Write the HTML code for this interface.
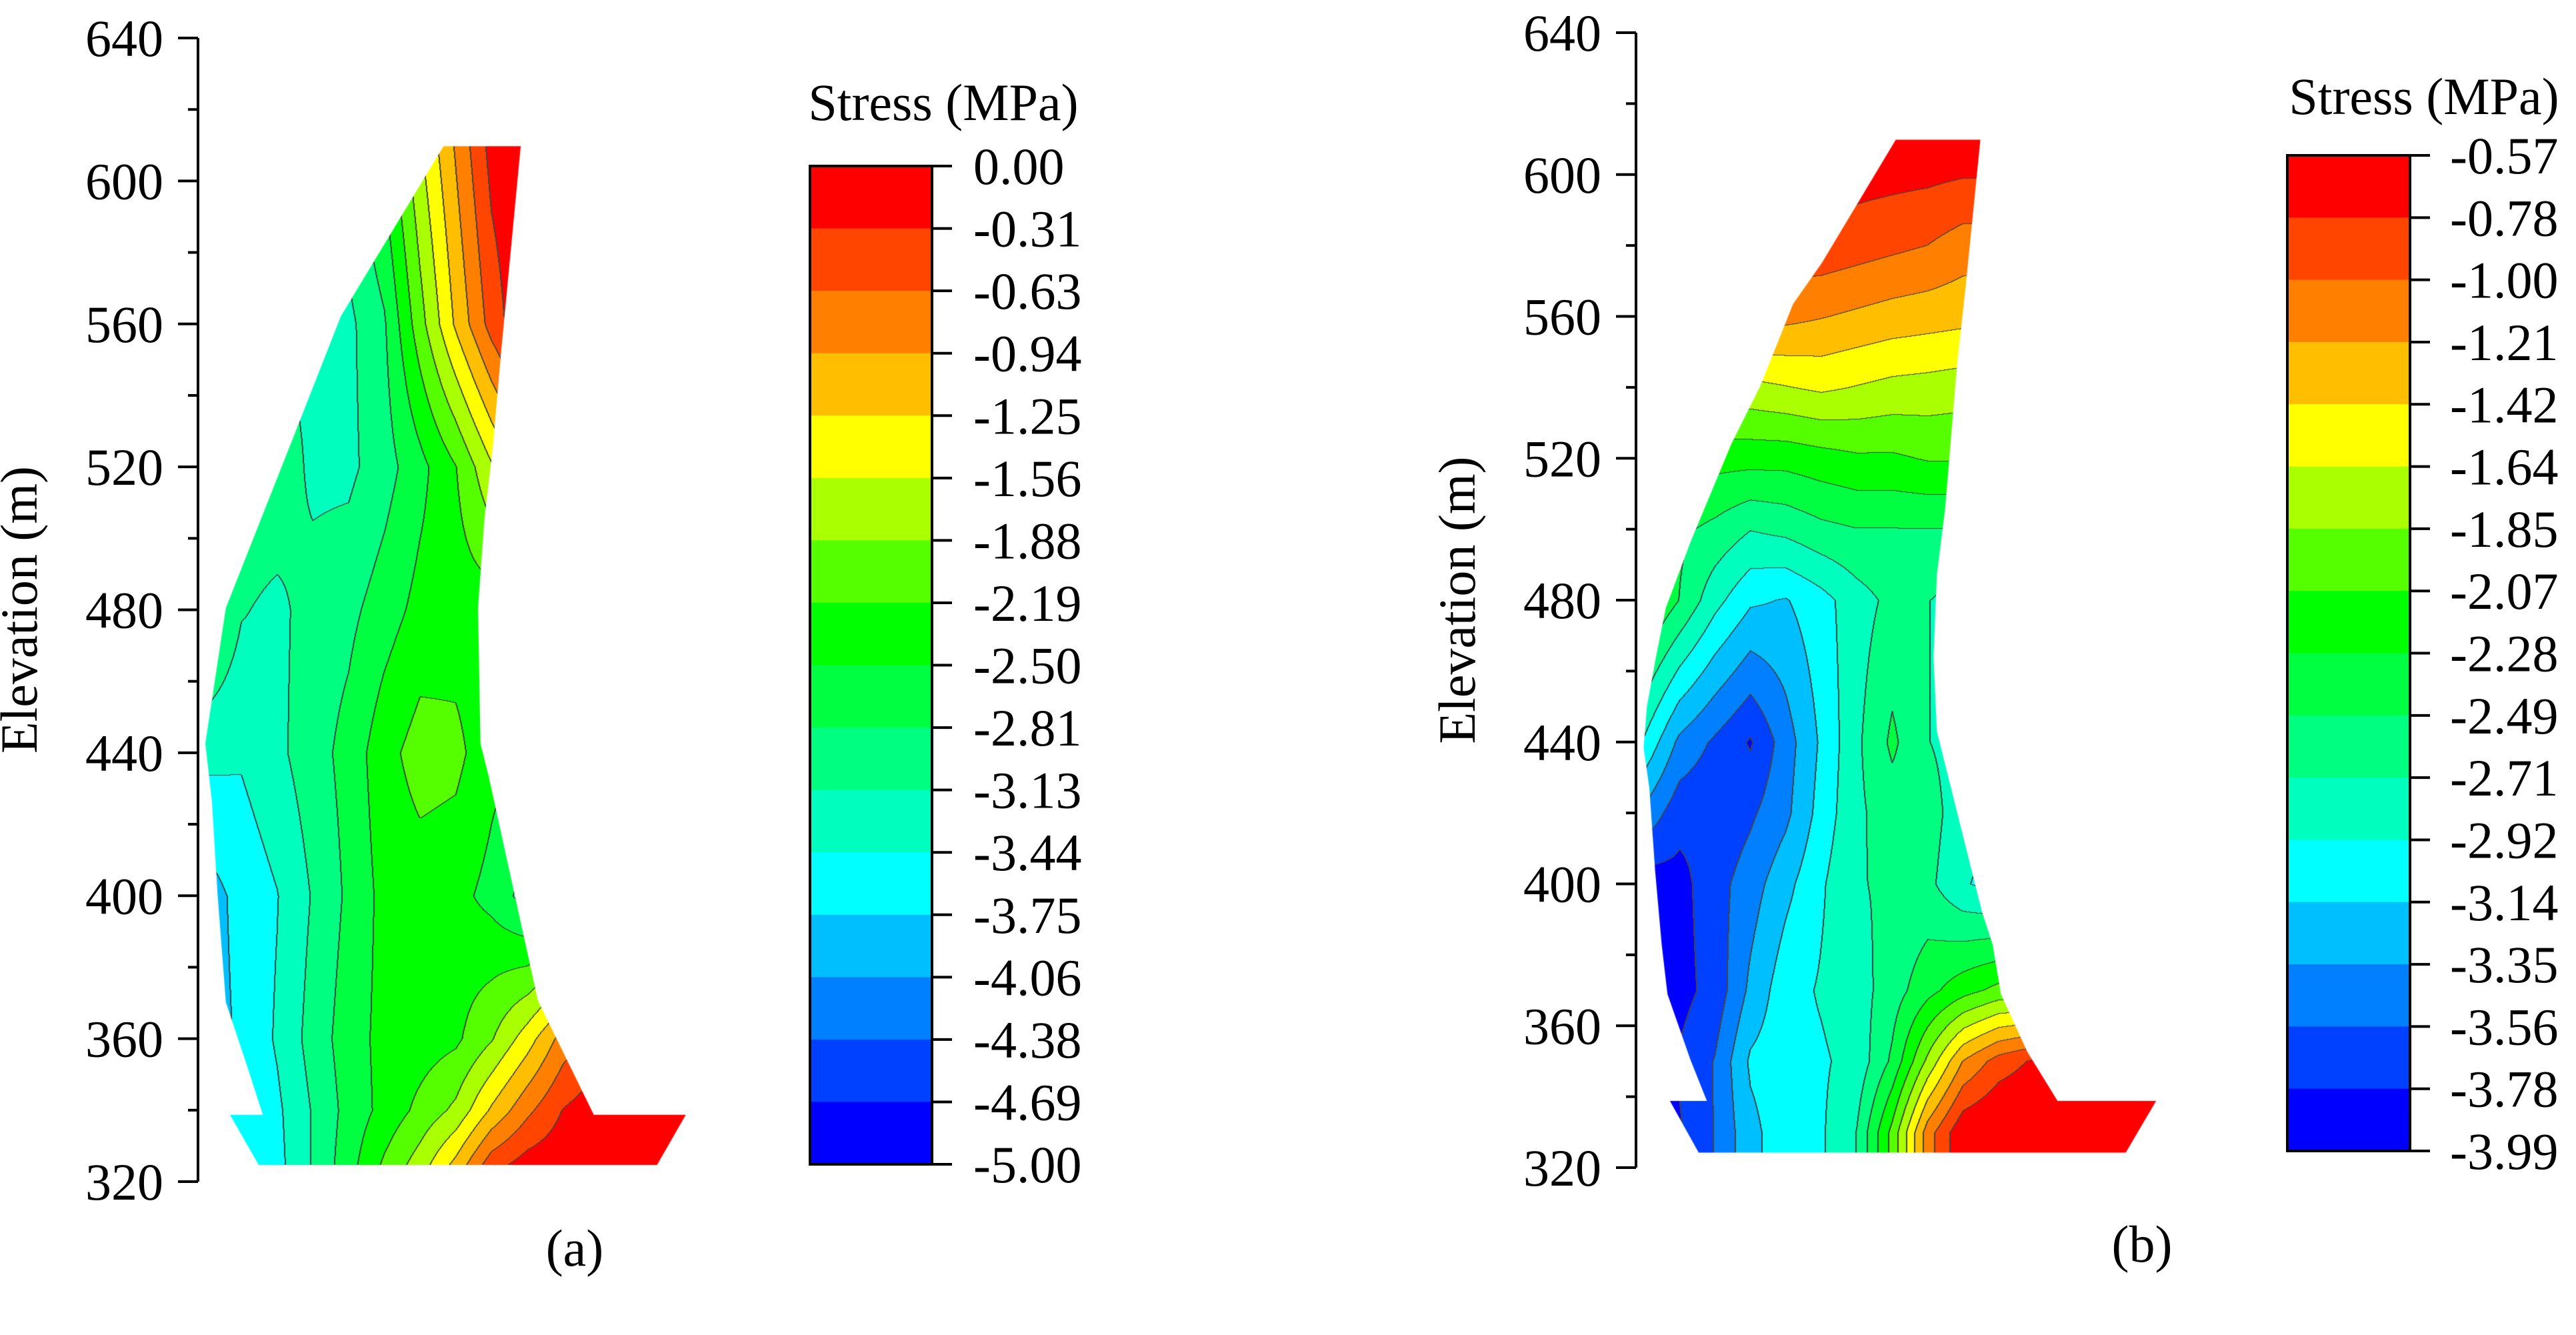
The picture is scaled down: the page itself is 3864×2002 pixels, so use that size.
<!DOCTYPE html>
<html><head><meta charset="utf-8">
<style>
html,body{margin:0;padding:0;background:#fff;}
#root{position:relative;width:3864px;height:2002px;overflow:hidden;font-family:'Liberation Serif','Times New Roman',serif;}
svg{position:absolute;left:0;top:0;}
svg text{font-family:'Liberation Serif','Times New Roman',serif !important;}
canvas{position:absolute;left:0;top:0;}
</style></head>
<body>
<div id="root">
<canvas id="cv" width="3864" height="2002"></canvas>
<svg id="sv" width="3864" height="2002" xmlns="http://www.w3.org/2000/svg" style="font-family:'Liberation Serif','Times New Roman',serif"></svg>
</div>
<script>
// ---------- data ----------
const bandColors = ["#ff0000","#ff4500","#ff8000","#ffbf00","#ffff00","#aaff00","#55ff00","#00ff00","#00ff40","#00ff80","#00ffbf","#00ffff","#00bfff","#0080ff","#0040ff","#0000ff"];
const yTicks = [320,360,400,440,480,520,560,600,640];
const levelsA = ["0.00","-0.31","-0.63","-0.94","-1.25","-1.56","-1.88","-2.19","-2.50","-2.81","-3.13","-3.44","-3.75","-4.06","-4.38","-4.69","-5.00"];
const levelsB = ["-0.57","-0.78","-1.00","-1.21","-1.42","-1.64","-1.85","-2.07","-2.28","-2.49","-2.71","-2.92","-3.14","-3.35","-3.56","-3.78","-3.99"];
// panel (a) stress grid: distance columns (m) x elevation rows (m)
const distA = [0,10,20,30,40,50,60,70,80,90,100,110,120,130];
const elevA = [610,560,520,480,440,400,360,340,320];
const stressA = [
 [-3.2,-3.2,-3.2,-3.1,-2.9,-2.4,-1.6,-0.9,-0.2,0,0,0,0,0],
 [-3.2,-3.2,-3.2,-3.2,-3.2,-2.85,-2.0,-1.2,-0.5,0,0,0,0,0],
 [-2.9,-2.9,-2.9,-3.2,-3.2,-2.95,-2.6,-2.2,-1.6,-1.0,-1,-1,-1,-1],
 [-2.65,-3.1,-3.2,-3.0,-2.9,-2.65,-2.4,-2.35,-2.35,-2.35,-2.35,-2.35,-2.35,-2.35],
 [-3.35,-3.4,-3.2,-2.95,-2.7,-2.3,-2.05,-2.1,-2.4,-2.5,-2.5,-2.5,-2.5,-2.5],
 [-3.9,-3.65,-3.45,-3.1,-2.75,-2.4,-2.35,-2.4,-2.6,-2.95,-3,-3,-3,-3],
 [-3.9,-3.7,-3.4,-3.0,-2.65,-2.4,-2.35,-2.25,-1.9,-1.4,-0.8,-0.5,-0.5,-0.5],
 [-3.7,-3.7,-3.5,-3.1,-2.7,-2.4,-2.1,-1.8,-1.2,-0.7,-0.3,-0.1,0,0],
 [-3.7,-3.7,-3.55,-3.1,-2.6,-2.05,-1.6,-0.95,-0.2,0,0,0,0,0]
];
// panel (b)
const distB = [0,10,20,30,40,50,60,70,80,90,100,110,120,130,140];
const elevB = [610,580,560,540,520,500,480,440,420,400,370,350,330,320];
const stressB = [
 [-0.6,-0.6,-0.6,-0.6,-0.6,-0.6,-0.6,-0.6,-0.6,-0.6,-0.6,-0.6,-0.6,-0.6,-0.6],
 [-0.85,-0.85,-0.85,-0.85,-0.85,-0.85,-0.9,-0.95,-1.0,-1.1,-1.1,-1.1,-1.1,-1.1,-1.1],
 [-1.1,-1.1,-1.1,-1.1,-1.15,-1.2,-1.25,-1.3,-1.33,-1.36,-1.36,-1.36,-1.36,-1.36,-1.36],
 [-1.7,-1.7,-1.7,-1.7,-1.65,-1.6,-1.65,-1.7,-1.72,-1.75,-1.75,-1.75,-1.75,-1.75,-1.75],
 [-2.2,-2.2,-2.2,-2.2,-2.2,-2.15,-2.1,-2.1,-2.05,-2.05,-2.05,-2.05,-2.05,-2.05,-2.05],
 [-2.3,-2.45,-2.55,-2.7,-2.65,-2.55,-2.5,-2.5,-2.5,-2.5,-2.5,-2.5,-2.5,-2.5,-2.5],
 [-2.2,-2.5,-2.85,-3.1,-3.15,-3.0,-2.8,-2.65,-2.7,-2.8,-2.8,-2.8,-2.8,-2.8,-2.8],
 [-2.95,-3.4,-3.6,-3.8,-3.45,-3.1,-2.75,-2.45,-2.7,-2.8,-2.8,-2.8,-2.8,-2.8,-2.8],
 [-3.4,-3.7,-3.75,-3.6,-3.4,-3.05,-2.75,-2.6,-2.6,-2.85,-2.9,-2.9,-2.9,-2.9,-2.9],
 [-3.9,-3.85,-3.65,-3.45,-3.2,-2.95,-2.72,-2.68,-2.65,-2.9,-3.0,-3.0,-3.0,-3.0,-3.0],
 [-3.9,-3.85,-3.7,-3.3,-3.0,-2.9,-2.8,-2.6,-2.35,-2.15,-2.0,-2.0,-2.0,-2.0,-2.0],
 [-3.8,-3.75,-3.55,-3.1,-3.0,-2.95,-2.85,-2.45,-1.8,-1.2,-0.9,-0.75,-0.7,-0.7,-0.7],
 [-3.85,-3.8,-3.55,-3.2,-3.0,-2.95,-2.7,-2.0,-1.1,-0.6,-0.5,-0.5,-0.5,-0.5,-0.5],
 [-3.85,-3.8,-3.55,-3.2,-3.0,-2.95,-2.7,-2.0,-1.1,-0.6,-0.5,-0.5,-0.5,-0.5,-0.5]
];
// dam outlines (reference display units, scaled by S)
const S = 1.232;
const outlineA = [[540,178],[634,178],[610,430],[600,545],[590,630],[582,740],[585,905],[595,945],[640,1150],[655,1218],[723,1357],[835,1357],[800,1418],[315,1418],[280,1357],[320,1357],[300,1295],[275,1220],[265,1090],[258,975],[250,905],[275,740],[360,525],[415,385]];
const outlineB = [[740,170],[843,170],[825,350],[815,440],[800,620],[790,700],[786,800],[790,890],[815,990],[845,1110],[858,1150],[868,1210],[900,1280],[937,1340],[1057,1340],[1020,1403],[500,1403],[465,1340],[510,1340],[490,1290],[462,1210],[455,1150],[447,1060],[440,960],[433,910],[437,860],[448,800],[460,740],[490,660],[540,540],[575,470],[615,370],[650,320]];

// ---------- panels ----------
const panels = [
 {id:"a", ox:0, axisX:297, yTop:57, yBot:1772, originX:308, dist:distA, elev:elevA, z:stressA, outline:outlineA,
  vmax:0, vmin:-5.0, levels:levelsA, cbX:1215, cbW:183, cbTop:249, cbBot:1746, titleX:1415, titleY:180, labX:1460, capX:862, capY:1898},
 {id:"b", ox:1932, axisX:2454, yTop:49, yBot:1751, originX:2465.5, dist:distB, elev:elevB, z:stressB, outline:outlineB,
  vmax:-0.57, vmin:-3.99, levels:levelsB, cbX:3431, cbW:184, cbTop:233, cbBot:1726, titleX:3636, titleY:171, labX:3675, capX:3213, capY:1892}
];

const NS="http://www.w3.org/2000/svg";
const sv=document.getElementById('sv');
function mk(tag,attrs,parent){const e=document.createElementNS(NS,tag);for(const k in attrs)e.setAttribute(k,attrs[k]);(parent||sv).appendChild(e);return e;}
const FS="font-family:'Liberation Serif','Times New Roman',serif;font-size:78px";

function interp(p,d,e){
  const E=p.elev, D=p.dist, Z=p.z;
  let r=0; while(r<E.length-2 && e<E[r+1]) r++;
  let te=(E[r]-e)/(E[r]-E[r+1]); te=Math.max(0,Math.min(1,te));
  let c=0; while(c<D.length-2 && d>D[c+1]) c++;
  let td=(d-D[c])/(D[c+1]-D[c]); td=Math.max(0,Math.min(1,td));
  const a=Z[r][c]*(1-td)+Z[r][c+1]*td, b=Z[r+1][c]*(1-td)+Z[r+1][c+1]*td;
  return a*(1-te)+b*te;
}
function hex(h){return [parseInt(h.substr(1,2),16),parseInt(h.substr(3,2),16),parseInt(h.substr(5,2),16)];}
const rgb=bandColors.map(hex);

const cv=document.getElementById('cv'), ctx=cv.getContext('2d');
panels.forEach(p=>{
  const pxPerM=(p.yBot-p.yTop)/320;
  const yOf=e=>p.yTop+(640-e)*pxPerM;
  const eOf=y=>640-(y-p.yTop)/pxPerM;
  const dOf=x=>(x-p.originX)/pxPerM;
  const pts=p.outline.map(q=>[p.ox+q[0]*S,q[1]*S]);
  let minx=1e9,maxx=-1e9,miny=1e9,maxy=-1e9;
  pts.forEach(q=>{minx=Math.min(minx,q[0]);maxx=Math.max(maxx,q[0]);miny=Math.min(miny,q[1]);maxy=Math.max(maxy,q[1]);});
  minx=Math.floor(minx)-2;miny=Math.floor(miny)-2;maxx=Math.ceil(maxx)+2;maxy=Math.ceil(maxy)+2;
  const W=maxx-minx,H=maxy-miny;
  const step=(p.vmax-p.vmin)/16;
  const band=new Int8Array(W*H);
  for(let j=0;j<H;j++){const e=eOf(miny+j);for(let i=0;i<W;i++){
    const v=interp(p,dOf(minx+i),e);
    let b=Math.floor((p.vmax-v)/step); b=Math.max(0,Math.min(15,b)); band[j*W+i]=b;}}
  const img=ctx.createImageData(W,H);
  for(let j=0;j<H;j++)for(let i=0;i<W;i++){
    const k=j*W+i,b=band[k];let c=rgb[b];
    const edge=(i<W-1&&band[k+1]!==b)||(j<H-1&&band[k+W]!==b)||(i>0&&band[k-1]!==b);
    if(edge)c=[68,68,68];
    img.data[k*4]=c[0];img.data[k*4+1]=c[1];img.data[k*4+2]=c[2];img.data[k*4+3]=255;}
  const off=document.createElement('canvas');off.width=W;off.height=H;off.getContext('2d').putImageData(img,0,0);
  ctx.save();ctx.beginPath();pts.forEach((q,i)=>i?ctx.lineTo(q[0],q[1]):ctx.moveTo(q[0],q[1]));ctx.closePath();ctx.clip();
  ctx.drawImage(off,minx,miny);ctx.restore();

  // axis
  const g=mk('g',{});
  
  mk('line',{x1:p.axisX,y1:p.yTop,x2:p.axisX,y2:p.yBot,stroke:'#000','stroke-width':4},g);
  for(let e=320;e<=640;e+=20){
    const major=(e%40===0);
    mk('line',{x1:p.axisX-(major?30:15),y1:yOf(e),x2:p.axisX,y2:yOf(e),stroke:'#000','stroke-width':4},g);
  }
  yTicks.forEach(t=>{
    const tx=mk('text',{x:p.axisX-52,y:yOf(t)+27,'text-anchor':'end',style:FS,fill:'#000'},g);
    tx.textContent=t;
  });
  const yl=mk('text',{x:0,y:0,'text-anchor':'middle',style:FS,fill:'#000',transform:`translate(${p.axisX-242},${(p.yTop+p.yBot)/2}) rotate(-90)`},g);
  yl.textContent='Elevation (m)';
  // colorbar
  const cb=mk('g',{});
  
  const bh=(p.cbBot-p.cbTop)/16;
  bandColors.forEach((c,i)=>{mk('rect',{x:p.cbX,y:p.cbTop+i*bh,width:p.cbW,height:bh+0.5,fill:c},cb);});
  mk('rect',{x:p.cbX,y:p.cbTop,width:p.cbW,height:p.cbBot-p.cbTop,fill:'none',stroke:'#000','stroke-width':4},cb);
  p.levels.forEach((l,i)=>{
    const y=p.cbTop+i*bh;
    mk('line',{x1:p.cbX+p.cbW,y1:y,x2:p.cbX+p.cbW+30,y2:y,stroke:'#000','stroke-width':4},cb);
    const t=mk('text',{x:p.labX,y:y+27,style:FS,fill:'#000'},cb);
    t.textContent=l;
  });
  const ti=mk('text',{x:p.titleX,y:p.titleY,'text-anchor':'middle',style:FS,fill:'#000'});
  ti.textContent='Stress (MPa)';
  const cap=mk('text',{x:p.capX,y:p.capY,'text-anchor':'middle',style:FS,fill:'#000'});
  cap.textContent='('+p.id+')';
});
</script>
</body></html>
